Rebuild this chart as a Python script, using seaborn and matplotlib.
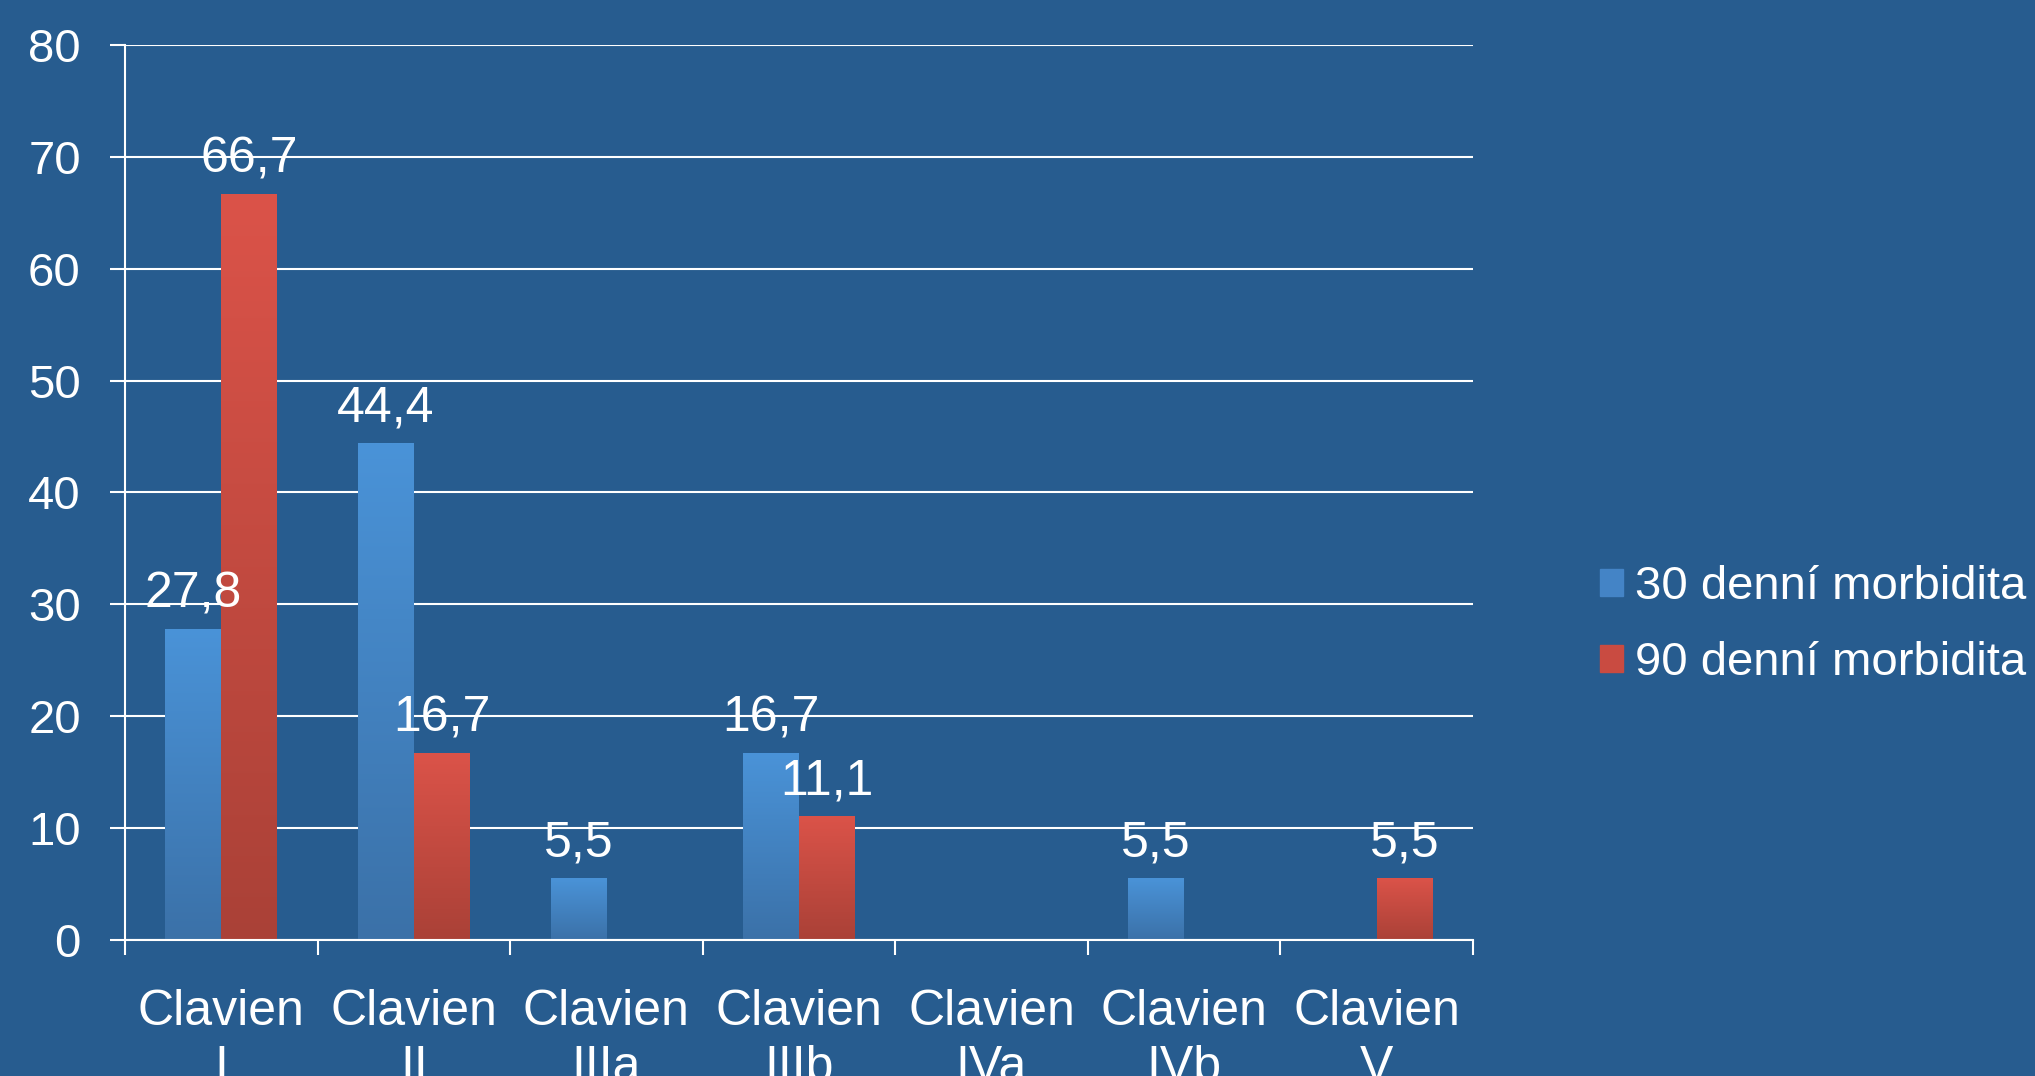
import numpy as np
import pandas as pd
import matplotlib
matplotlib.use('Agg')
import matplotlib.pyplot as plt
from matplotlib.colors import LinearSegmentedColormap
import seaborn as sns

# Data
categories = ['Clavien\nI', 'Clavien\nII', 'Clavien\nIIIa', 'Clavien\nIIIb',
              'Clavien\nIVa', 'Clavien\nIVb', 'Clavien\nV']
series_names = ['30 denní morbidita', '90 denní morbidita']
morb_30 = [27.8, 44.4, 5.5, 16.7, 0, 5.5, 0]
morb_90 = [66.7, 16.7, 0, 11.1, 0, 0, 5.5]

bg = '#275C8F'
solid = ['#4484C6', '#C94B41']
grad_colors = [('#3B71A8', '#4A93D8'), ('#AA4137', '#DB5349')]

df = pd.DataFrame({
    'Kategorie': categories * 2,
    'Serie': [series_names[0]] * len(categories) + [series_names[1]] * len(categories),
    'Hodnota': morb_30 + morb_90,
})

sns.set_theme(style='white')
plt.rcParams['font.family'] = ['Liberation Sans', 'DejaVu Sans']
plt.rcParams['font.size'] = 34

fig = plt.figure(figsize=(20.35, 10.76), dpi=100, facecolor=bg)
ax = fig.add_axes([0.0614, 0.1264, 0.7238 - 0.0614, 0.9582 - 0.1264])
ax.set_facecolor(bg)

sns.barplot(data=df, x='Kategorie', y='Hodnota', hue='Serie', palette=solid,
            width=0.58, saturation=1, ax=ax, legend=False, zorder=2,
            edgecolor='none', linewidth=0)

# vertical gradient on each bar + value labels
for cont, (c_bot, c_top) in zip(ax.containers, grad_colors):
    cmap = LinearSegmentedColormap.from_list('g', [c_bot, c_top])
    for bar in cont:
        h = bar.get_height()
        if h <= 0:
            continue
        x0, w = bar.get_x(), bar.get_width()
        im = ax.imshow(np.linspace(0, 1, 256).reshape(-1, 1), extent=(x0, x0 + w, 0, h),
                       origin='lower', cmap=cmap, aspect='auto', zorder=2.1)
        im.set_clip_path(bar)
        ax.annotate(f'{h:.1f}'.replace('.', ','), (x0 + w / 2, h), xytext=(0, 25),
                    textcoords='offset points', ha='center', va='center',
                    color='white', fontsize=36, zorder=3)

ax.set_xlim(-0.5, len(categories) - 0.5)
ax.set_ylim(0, 80)
ax.set_yticks(range(0, 81, 10))
ax.set_xlabel('')
ax.set_ylabel('')

ax.set_axisbelow(True)
ax.yaxis.grid(True, color='white', lw=1.5)
ax.xaxis.grid(False)
for s in ['top', 'right']:
    ax.spines[s].set_visible(False)
for s in ['left', 'bottom']:
    ax.spines[s].set_color('white')
    ax.spines[s].set_linewidth(1.5)

ax.tick_params(axis='y', left=True, colors='white', length=10.8, width=1.5,
               direction='out', pad=21, labelsize=34)
ax.tick_params(axis='x', which='major', length=0, pad=35, labelcolor='white', labelsize=36)
ax.set_xticks(np.arange(-0.5, len(categories), 1), minor=True)
ax.tick_params(axis='x', which='minor', bottom=True, colors='white', length=10.8,
               width=1.5, direction='out')
for lab in ax.get_xticklabels():
    lab.set_linespacing(1.3)

handles = [plt.Rectangle((0, 0), 1, 1, color=c) for c in solid]
fig.legend(handles, series_names, loc='center left', bbox_to_anchor=(0.786, 0.419),
           frameon=False, fontsize=34, labelcolor='white', handlelength=0.5,
           handleheight=0.5, handletextpad=0.25, labelspacing=0.67, borderpad=0,
           borderaxespad=0)

fig.savefig('out.png', dpi=100, facecolor=bg)
